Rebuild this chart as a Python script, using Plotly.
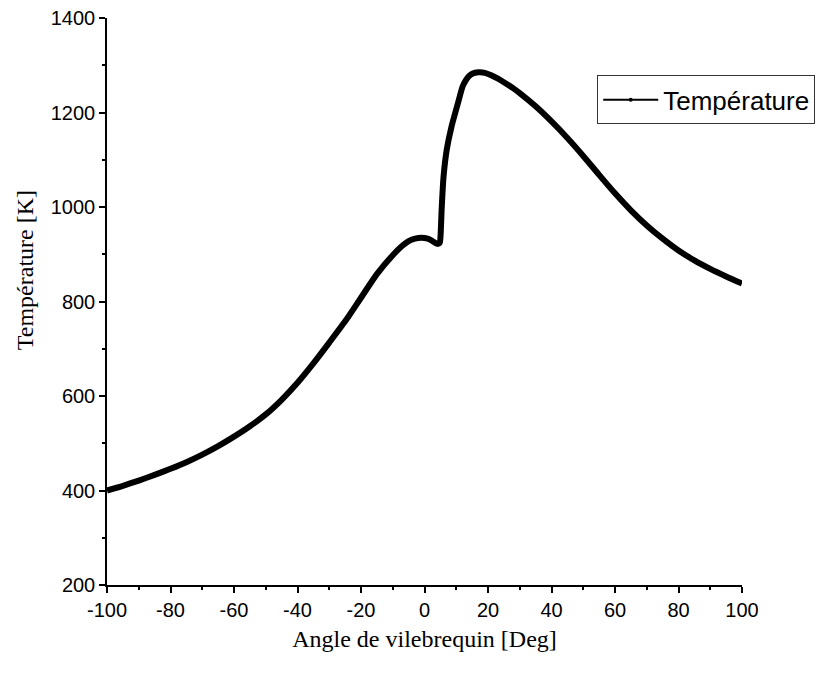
import plotly.graph_objects as go

# crank angle [deg] and gas temperature [K]
angle = [-100, -95, -90, -85, -80, -75, -70, -65, -60, -55, -50, -45, -40, -35, -30, -25,
         -20, -15, -10, -7, -5, -3, -1, 1, 2.5, 4, 4.8, 5.1, 5.4, 6, 7, 8.5, 10.5, 12, 13,
         14, 15, 17, 19, 21, 23, 25, 28, 30, 35, 40, 45, 50, 55, 60, 65, 70, 75, 80, 85,
         90, 95, 100]
temperature = [400, 410, 421, 433, 446, 460, 476, 494, 514, 536, 561, 592, 628, 669, 713,
               758, 808, 858, 898, 918, 928, 933, 935, 933, 928, 922, 924, 945, 995, 1064,
               1121, 1170, 1219, 1255, 1268, 1277, 1282, 1285, 1284, 1279, 1272, 1264, 1251,
               1241, 1213, 1181, 1146, 1108, 1068, 1029, 993, 961, 933, 908, 887, 869, 853,
               838]

x_ticks = list(range(-100, 101, 20))
y_ticks = list(range(200, 1401, 200))

fig = go.Figure()

# thick curve
fig.add_trace(go.Scatter(x=angle, y=temperature, mode="lines",
                         line=dict(color="black", width=6, shape="spline", smoothing=0.6),
                         showlegend=False))
# legend-only entry (thin line with a dot, like the original)
fig.add_trace(go.Scatter(x=[None], y=[None], mode="lines+markers", name="Température",
                         line=dict(color="black", width=2),
                         marker=dict(color="black", size=4)))

axis_common = dict(showline=True, linecolor="black", linewidth=1.5, mirror=False,
                   showgrid=False, zeroline=False, ticks="outside", ticklen=6,
                   tickwidth=1.5, tickcolor="black", automargin=False,
                   ticklabeloverflow="allow",
                   tickfont=dict(family="Liberation Sans, Arial", size=20, color="black"),
                   minor=dict(ticks="outside", ticklen=3, tickwidth=1.5, tickcolor="black"))

title_font = dict(family="Liberation Serif, Times New Roman", size=24, color="black")

fig.update_xaxes(range=[-100, 100], tickvals=x_ticks, ticktext=[str(v) for v in x_ticks],
                 minor_dtick=10,
                 title=dict(text="Angle de vilebrequin [Deg]", standoff=10, font=title_font),
                 **axis_common)
fig.update_yaxes(range=[200, 1400], tickvals=y_ticks, minor_dtick=100, **axis_common)

# y title sits a bit above the middle in the original, so it is placed by hand
fig.add_annotation(text="Température [K]", textangle=-90, font=title_font,
                   xref="paper", yref="paper", x=-0.13, y=0.556,
                   xanchor="center", yanchor="middle", showarrow=False)

# page body adds an 8px offset, so margins are shifted to compensate
fig.update_layout(
    width=825, height=675,
    margin=dict(l=99, r=91, t=10, b=98, autoexpand=False),
    plot_bgcolor="white", paper_bgcolor="white",
    legend=dict(x=0.772, y=0.899, xanchor="left", yanchor="top",
                bordercolor="#333333", borderwidth=1, bgcolor="white",
                font=dict(family="Liberation Sans, Arial", size=26, color="black"),
                itemwidth=55, tracegroupgap=0),
)

fig.write_html("out.html")
